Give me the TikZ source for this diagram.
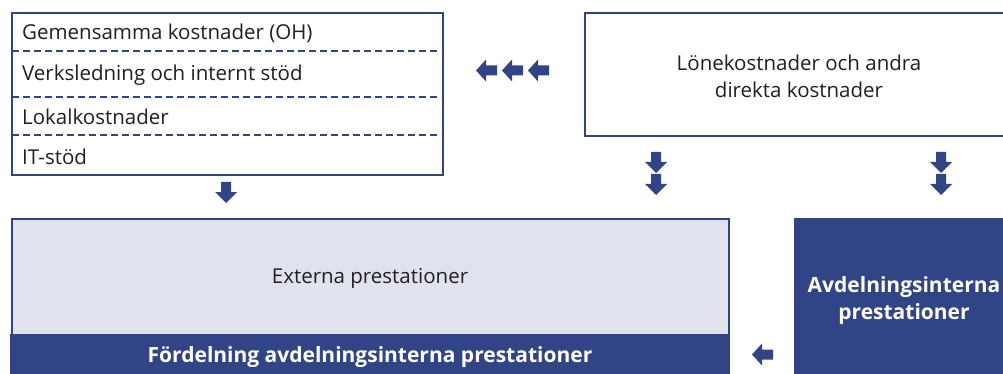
\documentclass[tikz,border=0pt]{standalone}
\usepackage{fontspec}
\setmainfont{Open Sans}
\definecolor{blu}{HTML}{314485}
\definecolor{lite}{HTML}{E0E3EE}
\definecolor{txt}{HTML}{231F20}
\tikzset{
  box/.style={draw=blu, line width=2pt, fill=white, anchor=north west, inner sep=0pt},
  dsep/.style={draw=blu, line width=1.6pt, dash pattern=on 7pt off 4pt},
  rowtxt/.style={anchor=west, text=txt, font=\fontsize{20.5}{24}\selectfont, inner sep=0pt},
  mtxt/.style={text=txt, font=\fontsize{20.5}{27}\selectfont, align=center, inner sep=0pt},
  wtxt/.style={text=white, font=\bfseries\fontsize{21}{27}\selectfont, align=center, inner sep=0pt},
  arr/.style={fill=blu}
}
% down arrow: center x, top y
\newcommand\darr[2]{\fill[arr] ({#1-5},{#2}) -- ({#1+5},{#2}) -- ({#1+5},{#2+10}) -- ({#1+11},{#2+10}) -- ({#1},{#2+21}) -- ({#1-11},{#2+10}) -- ({#1-5},{#2+10}) -- cycle;}
% left arrow: left x, center y
\newcommand\larr[2]{\fill[arr] ({#1},{#2}) -- ({#1+10},{#2-11}) -- ({#1+10},{#2-5}) -- ({#1+21},{#2-5}) -- ({#1+21},{#2+5}) -- ({#1+10},{#2+5}) -- ({#1+10},{#2+11}) -- cycle;}
\begin{document}
\begin{tikzpicture}[x=1pt,y=-1pt]
\useasboundingbox (0,0) rectangle (1003,374);
\clip (0,0) rectangle (1003,374);
% top-left box
\node[box, minimum width=431pt, minimum height=162pt] (oh) at (11,12) {};
\draw[dsep] (12,51) -- (441,51);
\draw[dsep] (12,97) -- (441,97);
\draw[dsep] (12,135) -- (441,135);
\node[rowtxt] (r1) at (22,33) {Gemensamma kostnader (OH)};
\node[rowtxt] (r2) at (22,75) {Verksledning och internt stöd};
\node[rowtxt] (r3) at (22,117) {Lokalkostnader};
\node[rowtxt] (r4) at (22,157) {IT-stöd};
% top-right box
\node[box, minimum width=440pt, minimum height=123pt] (lk) at (584,12) {};
\node[mtxt] (lkt) at (799,76) {Lönekostnader och andra\\direkta kostnader};
% bottom-left box
\node[box, fill=lite, minimum width=717pt, minimum height=170pt] (ext) at (11,218) {};
\fill[blu] (10,334) rectangle (729,380);
\node[mtxt] (extt) at (370,278) {Externa prestationer};
\node[wtxt] (ford) at (370,357) {Fördelning avdelningsinterna prestationer};
% bottom-right box
\fill[blu] (794,218) rectangle (1010,380);
\node[wtxt] (avd) at (904,301) {Avdelningsinterna\\prestationer};
% arrows
\larr{476}{70.5}
\larr{502}{70.5}
\larr{528}{70.5}
\darr{656}{152}
\darr{656}{174}
\darr{941}{152}
\darr{941}{174}
\darr{226}{182}
\larr{752}{354.5}
\end{tikzpicture}
\end{document}
